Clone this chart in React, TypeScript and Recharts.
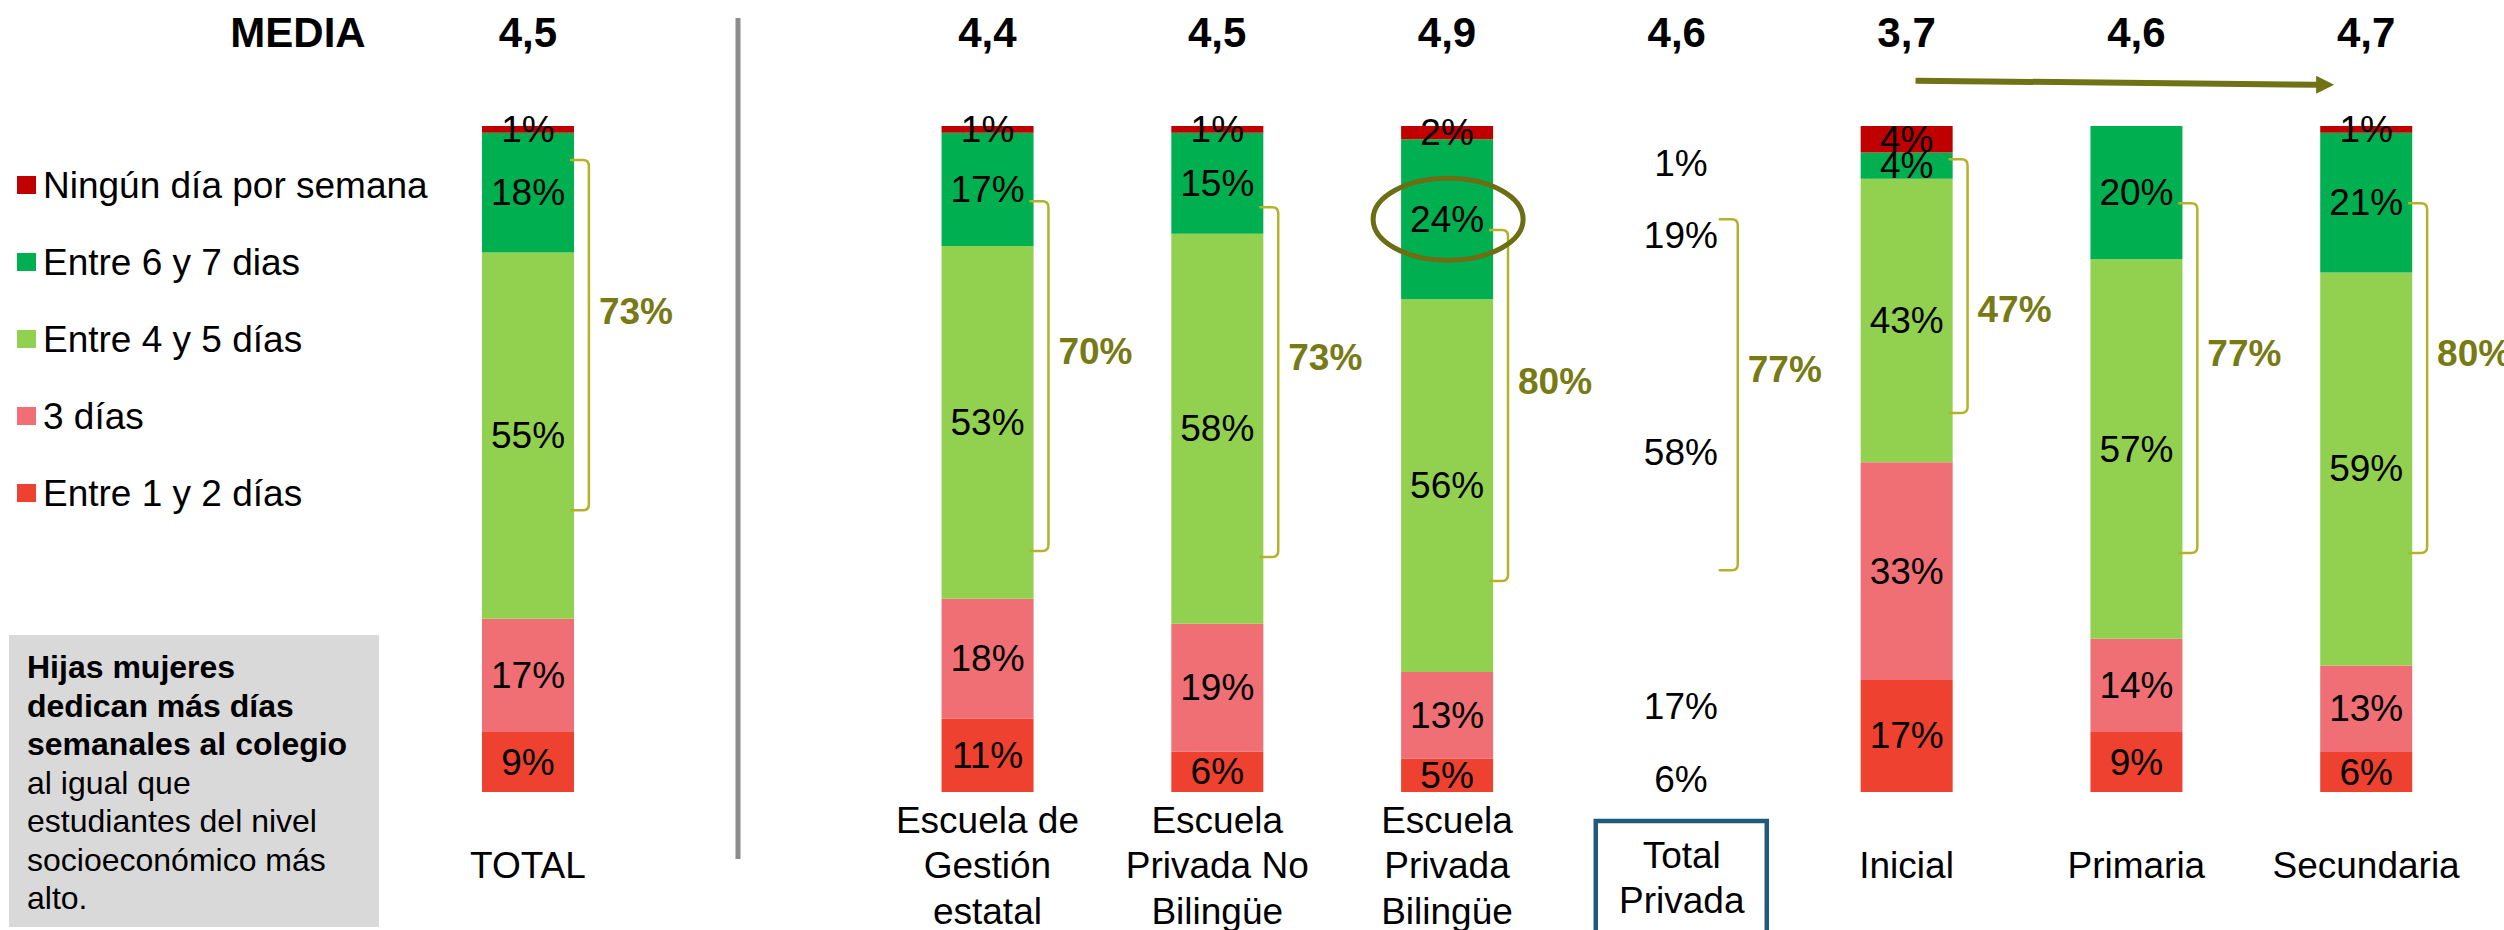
import React from 'react';
import { BarChart, Bar, XAxis, YAxis, Cell, LabelList, ReferenceLine } from 'recharts';

const FONT = '"Liberation Sans", Arial, sans-serif';

// categories (slot 'sep' is the empty gap with the divider)
const categories = ['total', 'sep', 'gestion', 'nobil', 'bil', 'totpriv', 'inicial', 'primaria', 'secundaria'];
const tickLabels: string[][] = [
  ['TOTAL'],
  [],
  ['Escuela de', 'Gestión', 'estatal'],
  ['Escuela', 'Privada No', 'Bilingüe'],
  ['Escuela', 'Privada', 'Bilingüe'],
  ['Total', 'Privada'],
  ['Inicial'],
  ['Primaria'],
  ['Secundaria'],
];
const means: (number | null)[] = [4.5, null, 4.4, 4.5, 4.9, 4.6, 3.7, 4.6, 4.7];

// series values (%), stacked bottom -> top
const entre1y2 = [9, 0, 11, 6, 5, 6, 17, 9, 6];
const tresDias = [17, 0, 18, 19, 13, 17, 33, 14, 13];
const entre4y5 = [55, 0, 53, 58, 56, 58, 43, 57, 59];
const entre6y7 = [18, 0, 17, 15, 24, 19, 4, 20, 21];
const ningunDia = [1, 0, 1, 1, 2, 1, 4, 0, 1];

const seriesKeys = ['d12', 'd3', 'd45', 'd67', 'd0'];
const seriesNames = ['Entre 1 y 2 días', '3 días', 'Entre 4 y 5 días', 'Entre 6 y 7 dias', 'Ningún día por semana'];
const seriesValues = [entre1y2, tresDias, entre4y5, entre6y7, ningunDia];
const seriesColors = ['#EE4130', '#EF6F75', '#92D050', '#00B050', '#C00000'];

// brackets (sum of 4-7 days), extents read in % of bar height
const bracketValues: (number | null)[] = [73, null, 70, 73, 80, 77, 47, 77, 80];
const bracketTop: (number | null)[] = [94.9, null, 88.7, 87.8, 84.4, 86.0, 95.0, 88.4, 88.4];
const bracketBottom: (number | null)[] = [42.3, null, 36.2, 35.3, 31.7, 33.3, 56.9, 35.9, 35.9];
const bracketLabelAt: (number | null)[] = [72.2, null, 66.1, 65.3, 61.6, 63.4, 72.4, 65.8, 65.8];

// arrow annotation (Inicial -> Secundaria), heights in % of bar height
const arrowFrom = 'inicial';
const arrowTo = 'secundaria';
const arrowLevels = [106.8, 106.2];

const highlightCategory = 'bil';
const highlightSeries = 'd67';

const sideNoteBold = ['Hijas mujeres', 'dedican más días', 'semanales al colegio'];
const sideNoteRegular = ['al igual que', 'estudiantes del nivel', 'socioeconómico más', 'alto.'];

const rows = categories.map((c, i) => {
  const r: Record<string, any> = { cat: c };
  seriesKeys.forEach((k, si) => {
    r[k] = seriesValues[si][i];
  });
  return r;
});

// label shifts for the bar-less "Total Privada" column
const totalPrivadaShift: Record<string, number> = { d12: 7, d3: 10, d45: 3, d67: 40, d0: 34 };

const labelKey = (k: string) => (entry: any) => {
  const row = entry && entry.payload && entry.payload.cat ? entry.payload : entry;
  return `${row.cat}|${row[k]}`;
};

const makeLabel = (sKey: string) => (props: any) => {
  const vb = props.viewBox || props;
  const x = Number(vb.x), y = Number(vb.y), w = Number(vb.width), h = Number(vb.height);
  const raw = String(props.value ?? '');
  const [cat, vs] = raw.split('|');
  const v = Number(vs);
  if (!v) return null;
  let cx = x + w / 2;
  let cy = y + h / 2;
  if (cat === 'totpriv') {
    cy += totalPrivadaShift[sKey];
    cx += 4;
  }
  return (
    <g>
      <text x={cx} y={cy} textAnchor="middle" dominantBaseline="central" fontSize={37} fill="#000" fontFamily={FONT}>
        {v}%
      </text>
      {cat === highlightCategory && sKey === highlightSeries && (
        <ellipse cx={cx + 1} cy={cy} rx={75} ry={41} fill="none" stroke="#6B6E12" strokeWidth={5} />
      )}
    </g>
  );
};

const TopTick = (props: any) => {
  const { x, payload } = props;
  const idx = categories.indexOf(payload.value);
  const m = means[idx];
  if (m == null) return null;
  return (
    <text x={x} y={32} textAnchor="middle" dominantBaseline="central" fontSize={42} fontWeight="bold" fill="#000" fontFamily={FONT}>
      {m.toFixed(1).replace('.', ',')}
    </text>
  );
};

const BottomTick = (props: any) => {
  const { x, payload } = props;
  const idx = categories.indexOf(payload.value);
  const lines = tickLabels[idx] || [];
  if (!lines.length) return null;
  const n = lines.length;
  const first = n === 1 ? 865 : 820 + (3 - n) * 35;
  const isBox = payload.value === 'totpriv';
  const cx = isBox ? x + 5 : x;
  return (
    <g>
      {isBox && <rect x={x - 81} y={821} width={171} height={112} fill="none" stroke="#1F5A7C" strokeWidth={4.5} />}
      {lines.map((l, j) => (
        <text key={j} x={cx} y={first + j * 45.5} textAnchor="middle" dominantBaseline="central" fontSize={37} fill="#000" fontFamily={FONT}>
          {l}
        </text>
      ))}
    </g>
  );
};

const bracketShape = (i: number) => (p: any) => {
  const { x1, y1, y2 } = p;
  const top = Math.min(y1, y2);
  const bot = Math.max(y1, y2);
  const vx = x1 + 61;
  const r = 6;
  const t = bracketTop[i] as number;
  const b = bracketBottom[i] as number;
  const la = bracketLabelAt[i] as number;
  const ly = top + ((t - la) / (t - b)) * (bot - top);
  return (
    <g>
      <path
        d={`M${vx - 19},${top} L${vx - r},${top} Q${vx},${top} ${vx},${top + r} L${vx},${bot - r} Q${vx},${bot} ${vx - r},${bot} L${vx - 19},${bot}`}
        fill="none"
        stroke="#B3B22A"
        strokeWidth={2.5}
      />
      <text x={vx + 10} y={ly} dominantBaseline="central" fontSize={37} fontWeight="bold" fill="#777A15" fontFamily={FONT}>
        {bracketValues[i]}%
      </text>
    </g>
  );
};

const arrowShape = (p: any) => {
  const { x1, y1, x2, y2 } = p;
  const sx = x1 + 9;
  const baseX = x2 - 50;
  const tipX = x2 - 32;
  const c = '#6F7215';
  return (
    <g>
      <line x1={sx} y1={y1} x2={baseX + 1} y2={y2} stroke={c} strokeWidth={6} />
      <polygon points={`${baseX},${y2 - 9} ${tipX},${y2} ${baseX},${y2 + 9}`} fill={c} />
    </g>
  );
};

export default function App() {
  return (
    <div style={{ position: 'absolute', left: 0, top: 0, width: 2504, height: 930, background: '#fff', overflow: 'hidden', fontFamily: FONT }}>
      <svg width={2504} height={930} style={{ position: 'absolute', left: 0, top: 0 }}>
        <text x={298} y={32} textAnchor="middle" dominantBaseline="central" fontSize={42} fontWeight="bold" fill="#000" fontFamily={FONT}>
          MEDIA
        </text>
        <line x1={738} y1={18} x2={738} y2={859} stroke="#8C8C8C" strokeWidth={5} />
        {seriesNames
          .map((name, i) => ({ name, color: seriesColors[i] }))
          .reverse()
          .map((s, j) => (
            <g key={s.name}>
              <rect x={17} y={185 + j * 77 - 9} width={19} height={18} fill={s.color} />
              <text x={43} y={185 + j * 77} dominantBaseline="central" fontSize={37} fill="#000" fontFamily={FONT}>
                {s.name}
              </text>
            </g>
          ))}
        <rect x={9} y={635} width={370} height={292} fill="#D9D9D9" />
        {sideNoteBold.concat(sideNoteRegular).map((l, j) => (
          <text
            key={j}
            x={27}
            y={667 + j * 38.5}
            dominantBaseline="central"
            fontSize={32}
            fontWeight={j < sideNoteBold.length ? 'bold' : 'normal'}
            fill="#000"
            fontFamily={FONT}
          >
            {l}
          </text>
        ))}
      </svg>
      <div style={{ position: 'absolute', left: 0, top: 0 }}>
        <BarChart width={2504} height={930} data={rows} stackOffset="expand" margin={{ top: 0, right: 23, bottom: 0, left: 413 }} barSize={92}>
          <XAxis dataKey="cat" xAxisId="top" orientation="top" height={126} axisLine={false} tickLine={false} interval={0} tick={<TopTick />} />
          <XAxis dataKey="cat" height={138} axisLine={false} tickLine={false} interval={0} tick={<BottomTick />} />
          <YAxis hide type="number" domain={[0, 1]} />
          {seriesKeys.map((k, si) => (
            <Bar key={k} dataKey={k} stackId="a" fill={seriesColors[si]} isAnimationActive={false}>
              {rows.map((r, i) => (
                <Cell key={i} fill={r.cat === 'totpriv' ? 'transparent' : seriesColors[si]} />
              ))}
              <LabelList dataKey={labelKey(k)} content={makeLabel(k)} />
            </Bar>
          ))}
          {categories.map((c, i) =>
            bracketValues[i] == null ? null : (
              <ReferenceLine
                key={'br' + c}
                ifOverflow="visible"
                segment={[
                  { x: c, y: (bracketTop[i] as number) / 100 },
                  { x: c, y: (bracketBottom[i] as number) / 100 },
                ]}
                shape={bracketShape(i)}
              />
            )
          )}
          <ReferenceLine
            ifOverflow="visible"
            segment={[
              { x: arrowFrom, y: arrowLevels[0] / 100 },
              { x: arrowTo, y: arrowLevels[1] / 100 },
            ]}
            shape={arrowShape}
          />
        </BarChart>
      </div>
    </div>
  );
}
